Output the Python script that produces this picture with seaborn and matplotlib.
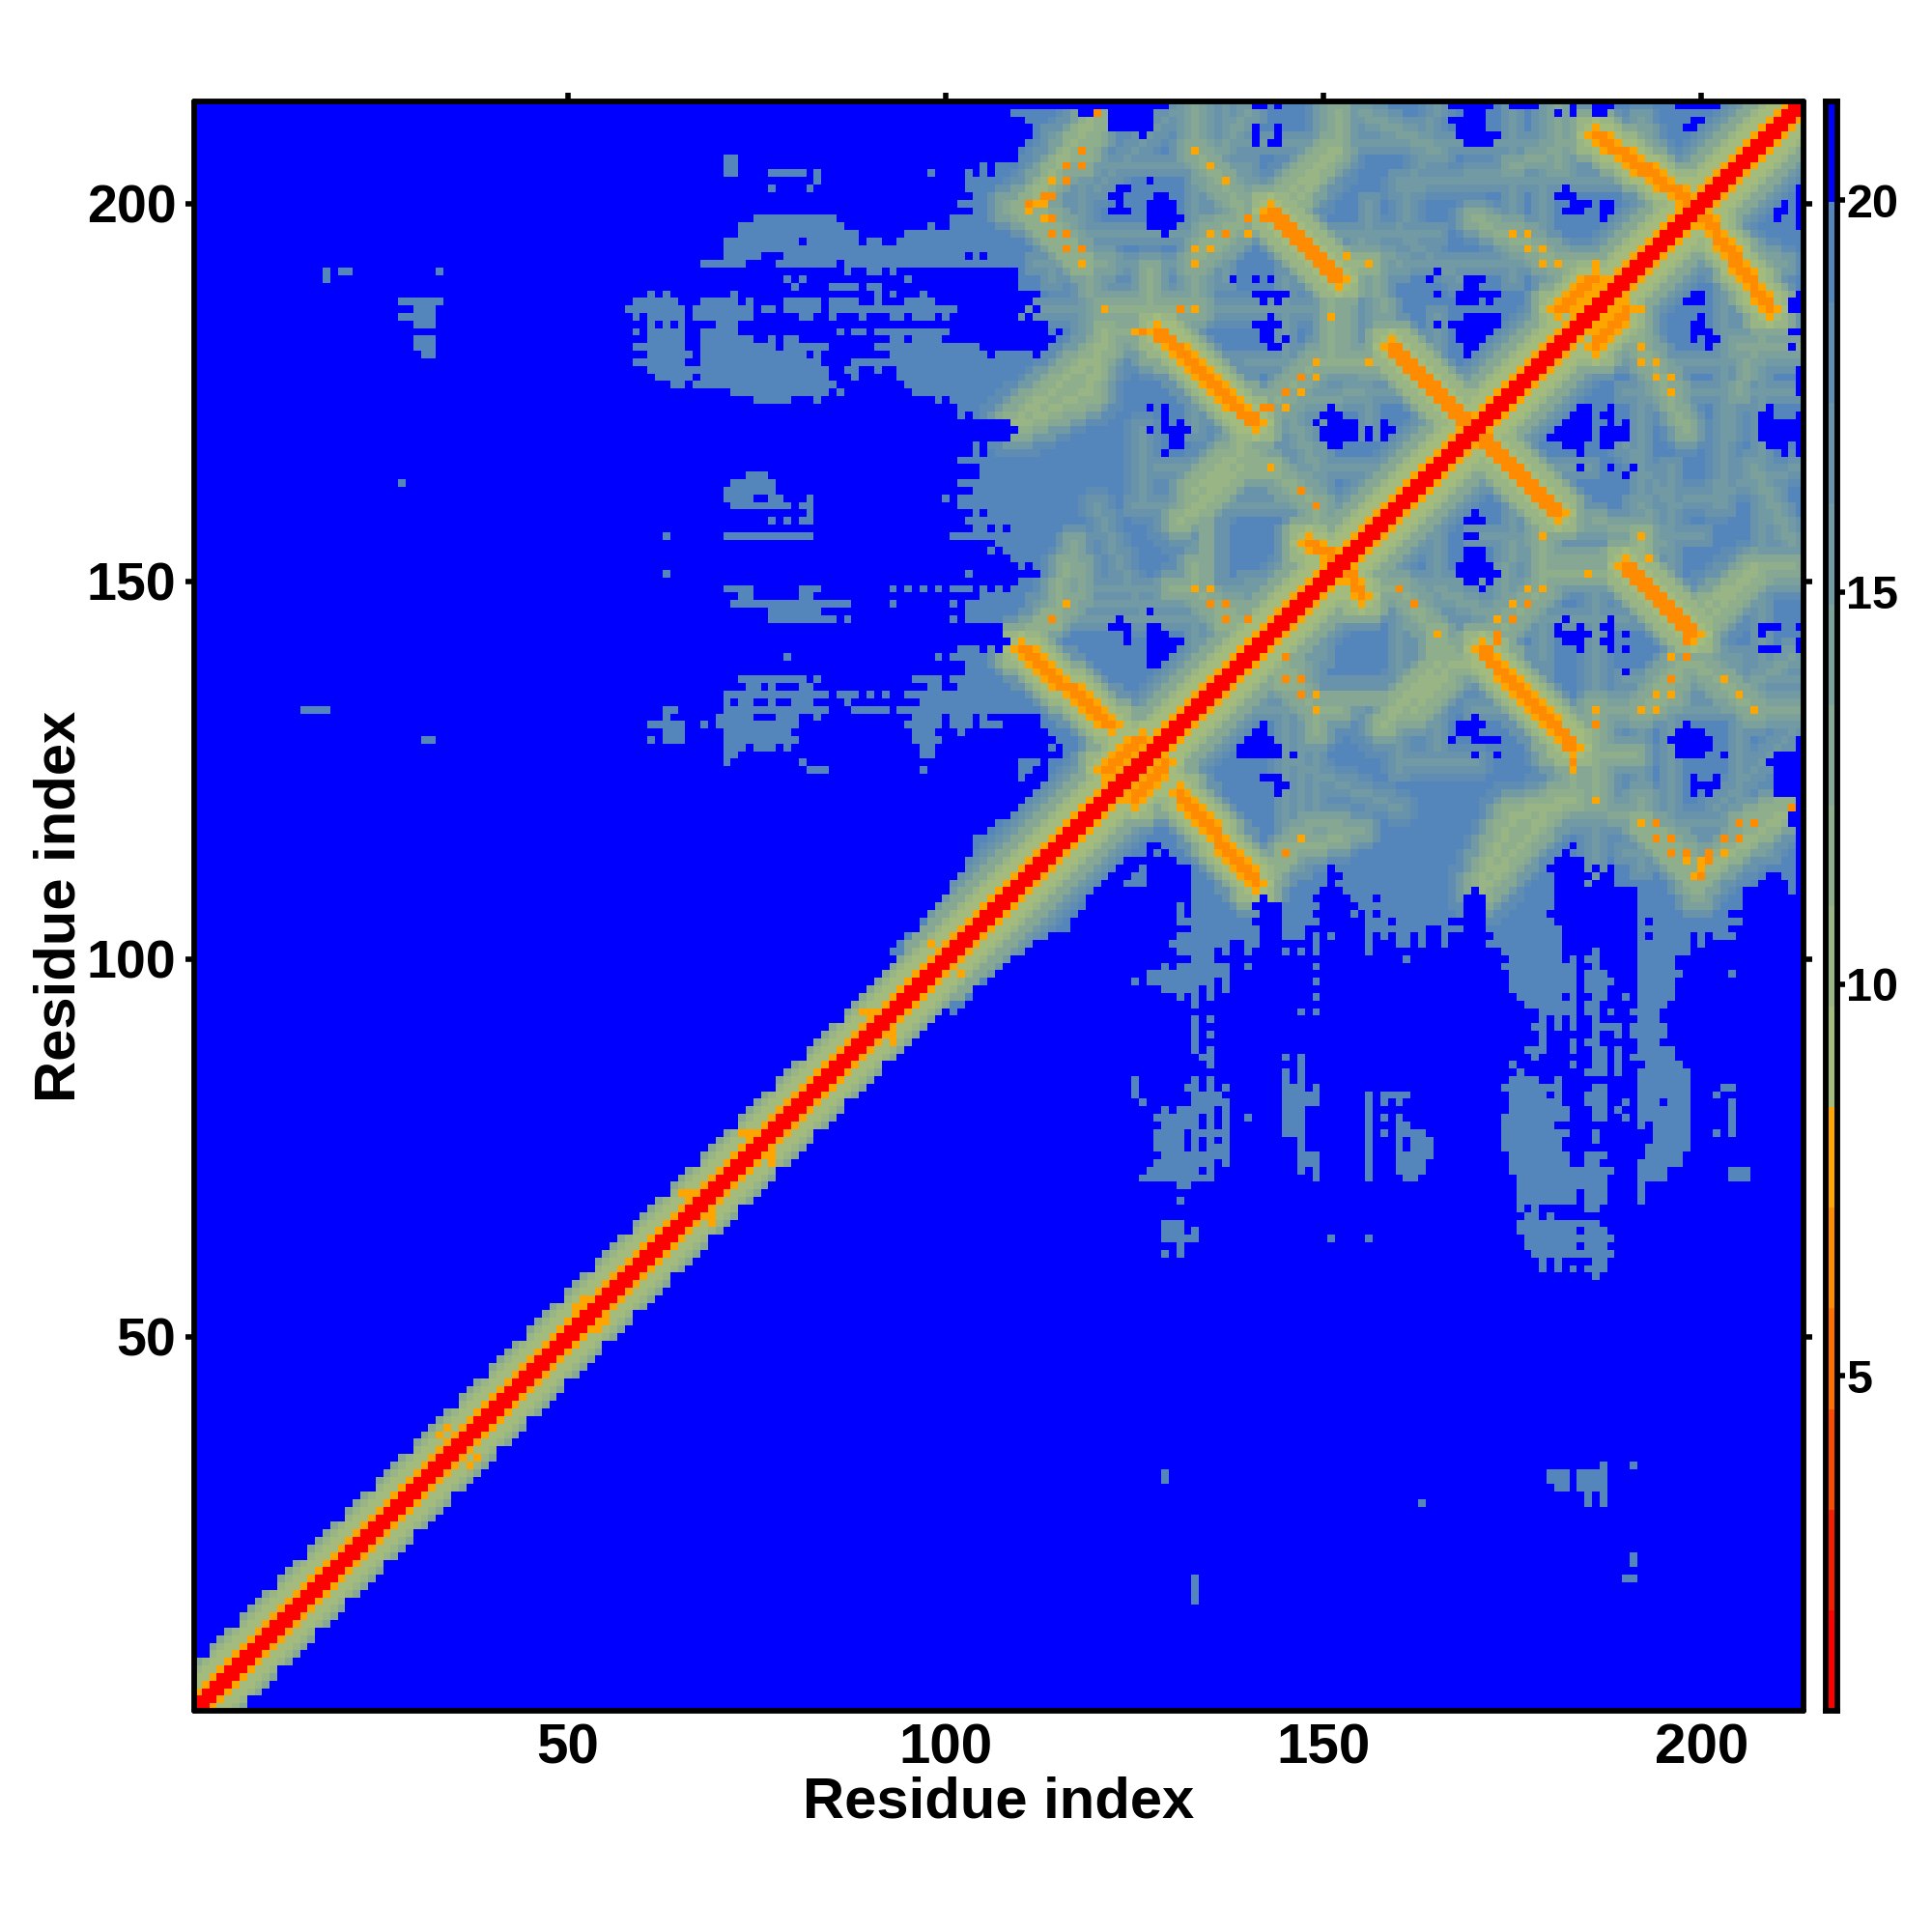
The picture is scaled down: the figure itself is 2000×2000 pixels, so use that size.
import numpy as np
import pandas as pd
import matplotlib
matplotlib.use("Agg")
import matplotlib.pyplot as plt
from matplotlib.colors import ListedColormap
import seaborn as sns

N = 213
BLUE = 21.0
STEEL = 19.0
tick_values = [50, 100, 150, 200]
cbar_ticks = [5, 10, 15, 20]
axis_label = "Residue index"
cmap_colors = ["#FF0000", "#F51E00", "#FA4B00", "#FF7000", "#FF8C00", "#FFA500",
               "#A3BC7D", "#99B585", "#8FAE8C", "#85A794", "#7CA09C", "#729AA4",
               "#6893AB", "#5E8CB3", "#5485BB", "#0000FF"]
VMIN, VMAX = 0.73, 21.26

# first non-blue residue x on each row y = 101..213
solid_first_x = [93, 94, 95, 97, 97, 98, 99, 100, 102, 103, 103, 104, 104, 104, 104, 104,
                 106, 107, 110, 111, 112, 113, 113, 114, 114, 114, 116, 116, 115, 114, 113, 113,
                 94, 97, 95, 102, 101, 103, 103, 101, 108, 109, 108, 108, 103, 103, 103, 105,
                 109, 110, 113, 112, 109, 108, 107, 101, 104, 103, 104, 102, 102, 104, 102, 105,
                 105, 102, 106, 106, 109, 110, 109, 104, 102, 101, 96, 95, 94, 94, 88, 113,
                 114, 115, 116, 114, 113, 113, 113, 113, 110, 110, 110, 87, 79, 71, 94, 95,
                 101, 101, 104, 102, 104, 103, 103, 103, 107, 110, 110, 111, 112, 112, 111, 110, 130]

# isolated non-blue spans (y, x0, x1)
patch_spans = [
    (206, 71, 72), (205, 71, 72), (204, 71, 72), (204, 77, 81), (204, 83, 83), (203, 83, 83), (204, 98, 98),
    (202, 77, 77), (202, 82, 82), (212, 109, 109), (205, 105, 105), (204, 103, 103), (204, 105, 105),
    (198, 75, 85), (197, 73, 86), (197, 98, 98), (196, 73, 88), (195, 71, 88), (195, 90, 91),
    (193, 71, 75), (192, 68, 73), (192, 78, 85), (191, 87, 87), (191, 90, 91), (191, 93, 93),
    (190, 79, 79), (190, 81, 81), (190, 95, 95), (189, 80, 80), (189, 85, 88), (189, 90, 91),
    (188, 61, 61), (188, 63, 63), (188, 72, 72), (188, 91, 91), (188, 93, 93), (188, 97, 97),
    (187, 59, 64), (187, 68, 72), (187, 74, 74), (187, 79, 83), (187, 85, 88), (187, 91, 91), (187, 95, 98), (187, 112, 112),
    (186, 58, 65), (186, 67, 74), (186, 76, 77), (186, 79, 83), (186, 85, 101), (186, 111, 111),
    (185, 59, 59), (185, 61, 65), (185, 67, 74), (185, 81, 82), (185, 85, 85), (185, 89, 89), (185, 93, 94),
    (185, 96, 98), (185, 100, 100), (185, 110, 110), (185, 112, 112),
    (184, 61, 61), (184, 63, 63), (184, 65, 65), (184, 70, 72),
    (183, 59, 59), (183, 61, 65), (183, 68, 72), (183, 86, 86), (183, 88, 89), (183, 91, 100), (183, 114, 114),
    (182, 61, 65), (182, 68, 74), (182, 77, 77), (182, 79, 80), (182, 93, 94), (182, 96, 99),
    (181, 59, 65), (181, 68, 77), (181, 79, 84), (181, 91, 104),
    (180, 61, 66), (180, 68, 81), (180, 83, 83), (180, 93, 105), (180, 107, 111),
    (179, 59, 65), (179, 68, 83), (178, 61, 84), (178, 87, 88), (178, 91, 91),
    (177, 62, 66), (177, 68, 84), (177, 88, 88), (176, 64, 65), (176, 67, 85),
    (175, 72, 84), (175, 86, 86), (174, 75, 79), (174, 83, 83), (174, 99, 99),
    (172, 102, 102), (168, 104, 104), (167, 104, 104),
    (164, 74, 76), (163, 72, 77), (162, 71, 77), (161, 71, 74), (161, 77, 78), (161, 82, 82), (161, 100, 100),
    (160, 72, 79), (160, 81, 82), (159, 82, 82), (158, 77, 77), (158, 79, 79), (158, 81, 82),
    (156, 63, 63), (156, 71, 82), (154, 106, 106), (152, 110, 110), (151, 63, 63), (151, 103, 103),
    (149, 71, 74), (149, 81, 83), (149, 93, 93), (149, 95, 95), (149, 97, 97), (149, 99, 99), (149, 101, 103),
    (149, 105, 105), (149, 107, 107),
    (148, 73, 74), (148, 81, 82), (147, 72, 87), (147, 93, 93), (147, 101, 101), (146, 77, 83),
    (145, 77, 85), (145, 87, 87), (145, 101, 101), (141, 102, 104), (141, 106, 106),
    (140, 79, 79), (140, 99, 99), (137, 73, 81), (137, 83, 83), (137, 96, 99),
    (136, 74, 75), (136, 77, 77), (136, 81, 82), (136, 98, 99),
    (135, 71, 84), (135, 86, 88), (135, 90, 90), (135, 92, 92),
    (134, 71, 71), (134, 73, 74), (134, 77, 77), (134, 80, 82), (134, 87, 87),
    (133, 63, 64), (133, 71, 84), (133, 88, 92), (133, 15, 18),
    (132, 63, 63), (132, 70, 74), (132, 78, 80), (132, 83, 83), (132, 96, 99), (132, 101, 103), (132, 105, 105),
    (131, 61, 65), (131, 68, 68), (131, 70, 80), (131, 95, 99), (131, 101, 103), (131, 105, 107),
    (130, 63, 65), (130, 71, 79), (130, 96, 98), (130, 102, 102),
    (129, 61, 61), (129, 63, 65), (129, 71, 80), (129, 96, 99), (129, 31, 32),
    (128, 71, 73), (128, 75, 77), (128, 79, 79), (128, 97, 98), (128, 114, 114),
    (127, 71, 72), (127, 97, 98), (126, 71, 71), (126, 81, 81), (126, 110, 112),
    (125, 82, 84), (125, 97, 97), (125, 110, 111), (124, 110, 110),
    (191, 18, 18), (190, 18, 18), (191, 20, 21), (191, 33, 33), (187, 28, 33), (186, 30, 32), (185, 28, 32),
    (184, 30, 32), (182, 30, 32), (181, 30, 32), (180, 31, 32), (163, 28, 28), (163, 28, 28),
]

# blue holes inside the solid area (x0, x1, y0, y1)
hole_rects = [
    (118, 119, 212, 212), (122, 127, 210, 213), (126, 126, 209, 209), (128, 129, 213, 213),
    (141, 142, 213, 213), (144, 144, 213, 213), (141, 141, 208, 210), (144, 144, 208, 210), (143, 144, 208, 208),
    (127, 127, 203, 203), (123, 124, 202, 202), (122, 123, 201, 201), (123, 123, 200, 200), (122, 124, 199, 199),
    (128, 129, 201, 201), (127, 130, 197, 200), (130, 131, 198, 198), (130, 130, 197, 197), (129, 129, 196, 196),
    (103, 103, 201, 201), (103, 103, 199, 199), (103, 103, 193, 193), (105, 105, 193, 193), (104, 104, 204, 204),
    (106, 106, 204, 205), (81, 81, 195, 195),
    (138, 138, 190, 190), (141, 141, 190, 190), (143, 143, 190, 190), (141, 145, 188, 188), (142, 142, 187, 187),
    (144, 144, 187, 187), (143, 143, 185, 185), (141, 144, 184, 184), (142, 143, 182, 183), (145, 145, 182, 182),
    (143, 144, 181, 181), (165, 165, 191, 191), (164, 164, 190, 190), (165, 165, 188, 188), (165, 165, 184, 184),
    (127, 127, 173, 173), (129, 129, 170, 173), (131, 131, 170, 171), (127, 127, 170, 170), (130, 132, 170, 170),
    (130, 131, 168, 169), (129, 129, 167, 167),
    (151, 151, 173, 173), (150, 150, 172, 172), (152, 152, 172, 172), (149, 149, 171, 171), (151, 154, 171, 171),
    (150, 154, 169, 170), (151, 152, 168, 168), (156, 156, 169, 170), (158, 158, 169, 171), (159, 159, 168, 170),
    (160, 160, 169, 169),
    (167, 172, 213, 213), (169, 171, 212, 212), (167, 171, 211, 211), (168, 171, 209, 210), (172, 173, 209, 209),
    (169, 172, 208, 208), (176, 176, 213, 213), (178, 178, 213, 213), (181, 181, 212, 212), (183, 183, 212, 213),
    (186, 188, 213, 213), (186, 187, 212, 212), (197, 205, 213, 213), (207, 207, 213, 213),
    (199, 200, 208, 211), (198, 198, 210, 210), (213, 213, 207, 207), (213, 213, 197, 205),
    (182, 182, 202, 202), (181, 183, 201, 201), (183, 185, 200, 200), (182, 184, 199, 199),
    (187, 188, 200, 200), (187, 190, 198, 199), (208, 211, 199, 200), (210, 210, 198, 198),
    (169, 171, 190, 190), (169, 170, 189, 189), (168, 173, 188, 188), (168, 168, 187, 187), (170, 170, 187, 187),
    (172, 172, 187, 187), (169, 172, 185, 185), (167, 173, 184, 184), (168, 174, 182, 183), (169, 172, 180, 181),
    (171, 171, 179, 179), (198, 199, 188, 190), (198, 200, 187, 188), (200, 200, 185, 185), (199, 200, 183, 184),
    (199, 199, 182, 182), (201, 202, 182, 182), (201, 201, 181, 181), (212, 213, 186, 187), (213, 213, 188, 188),
    (212, 213, 183, 183), (212, 212, 181, 181), (213, 213, 177, 177), (213, 213, 175, 175),
    (182, 183, 174, 174), (180, 185, 169, 173), (179, 185, 171, 171), (182, 184, 168, 168), (184, 184, 167, 167),
    (188, 188, 173, 173), (187, 188, 172, 172), (188, 188, 171, 171), (190, 190, 171, 171), (187, 190, 169, 170),
    (187, 188, 168, 168), (184, 184, 165, 165), (188, 188, 165, 165), (191, 191, 165, 165), (190, 190, 164, 164),
    (209, 209, 173, 173), (208, 209, 172, 172), (208, 213, 169, 171), (209, 211, 168, 168), (211, 211, 167, 167),
    (213, 213, 167, 172),
    (169, 169, 160, 160), (168, 170, 159, 159), (169, 171, 158, 158), (169, 170, 156, 156), (169, 171, 153, 154),
    (168, 172, 151, 152), (173, 173, 151, 151), (170, 170, 150, 150), (172, 172, 150, 150), (171, 171, 149, 149),
    (182, 182, 145, 145), (181, 181, 143, 144), (184, 184, 144, 144), (183, 185, 143, 143), (182, 184, 142, 142),
    (184, 184, 141, 141), (188, 188, 141, 145), (187, 187, 144, 144), (187, 187, 142, 142), (190, 190, 143, 143),
    (190, 190, 141, 141), (190, 190, 138, 138), (208, 210, 144, 144), (208, 208, 143, 143), (209, 210, 141, 141),
    (213, 213, 144, 144), (213, 213, 141, 142),
    (170, 170, 132, 132), (168, 171, 131, 131), (168, 169, 130, 130), (167, 167, 129, 129), (170, 173, 129, 129),
    (170, 170, 127, 127), (173, 173, 127, 127), (198, 198, 131, 131), (197, 197, 130, 130), (196, 196, 129, 129),
    (198, 200, 127, 130), (201, 201, 128, 129), (203, 203, 127, 127), (199, 199, 122, 124), (200, 201, 123, 123),
    (202, 202, 123, 124), (201, 201, 122, 122), (210, 213, 122, 126), (209, 209, 126, 126), (210, 210, 127, 127),
    (212, 213, 127, 127), (213, 213, 128, 129), (212, 213, 118, 120), (213, 213, 112, 117),
    (123, 123, 145, 145), (122, 124, 144, 144), (124, 124, 142, 143), (127, 127, 146, 146), (127, 128, 144, 144),
    (127, 129, 143, 143), (127, 131, 142, 142), (127, 130, 140, 141), (127, 131, 139, 139), (128, 130, 138, 138),
    (139, 139, 131, 131), (142, 142, 131, 131), (138, 139, 130, 130), (141, 142, 130, 130), (138, 143, 129, 129),
    (138, 144, 128, 128), (139, 144, 127, 127), (146, 146, 127, 127), (142, 144, 124, 124), (144, 145, 123, 123),
    (144, 144, 122, 122), (106, 106, 157, 157), (108, 108, 157, 157), (105, 105, 159, 159),
]

# green ridges (x0, y0, x1, y1, core distance)
ridges = [
    (111, 200, 120, 212, 10.5), (111, 199, 118, 192, 11), (118, 192, 121, 183, 13.5), (133, 213, 133, 207, 12.5),
    (133, 207, 140, 198, 11.5), (133, 192, 140, 198, 11.5), (121, 186, 133, 186, 11.5), (127, 191, 127, 180, 12),
    (109, 171, 121, 181, 10), (143, 199, 151, 207, 10), (151, 207, 151, 213, 12.5), (139, 171, 139, 167, 10.5),
    (139, 167, 133, 160, 10), (151, 190, 151, 181, 13), (145, 175, 149, 179, 11.5), (149, 179, 156, 179, 12),
    (156, 179, 159, 181, 11.5), (141, 171, 147, 177, 11.5), (149, 160, 143, 165, 11.5), (143, 165, 139, 168, 11.5),
    (149, 160, 149, 152, 11.5), (170, 198, 181, 192, 12), (181, 192, 186, 187, 11.5), (181, 213, 181, 205, 12.5),
    (186, 209, 175, 205, 13), (192, 186, 192, 181, 12), (192, 181, 196, 175, 11.5), (196, 175, 198, 171, 13),
    (179, 149, 173, 143, 11.5), (179, 156, 179, 149, 12), (192, 156, 192, 153, 10.5), (179, 151, 190, 151, 12),
    (199, 143, 198, 140, 11.5), (198, 140, 196, 135, 12), (196, 135, 192, 133, 11.5), (186, 133, 192, 133, 12.5),
    (199, 143, 203, 137, 12.5), (203, 137, 207, 133, 12), (199.5, 146, 207, 151.5, 10.5), (207, 151.5, 212, 152, 12),
    (165, 143, 166, 137, 11), (166, 137, 162, 133, 10), (171, 141, 165, 139, 11.5), (165, 139, 160, 134, 10.5),
    (160, 134, 158, 131, 10.5), (183, 127, 183, 121, 11.5), (183, 121, 175, 119, 10.5), (175, 119, 171, 110, 10),
    (186, 133, 186, 121, 12.5), (192, 118, 198, 114, 11.5), (198, 114, 199.5, 109, 11.5), (207, 118, 200, 111, 11.5),
    (192, 118, 192, 121, 12.5), (205, 118, 211, 121, 12), (141.5, 110, 147, 116, 11.5), (147, 116, 155, 117, 13.5),
    (147, 135, 149, 133, 11.5), (149, 133, 149, 130, 12), (145, 140, 147, 135, 11.5), (149, 134.5, 158, 134.5, 13),
    (133, 152, 133, 149, 12), (133, 149, 137, 145, 11.5), (137, 145, 140, 143, 11), (114, 145, 116, 152, 12),
    (110, 142, 114, 145, 11), (118, 152, 118, 148, 13), (165, 143, 165, 136, 11.5), (160, 149, 165, 143, 12),
    (173, 145, 165, 149, 14), (179, 153, 192, 153, 13), (212, 140, 205, 135, 14), (205, 195, 211, 192, 14.5),
    (155, 195, 160, 192, 14), (165, 213, 160, 196, 15), (175, 155, 173, 145, 14), (205, 178, 202, 160, 15),
    (190, 168, 196, 160, 15), (186, 158, 192, 156, 13.5), (207, 165, 212, 155, 14), (160, 126, 170, 126, 15),
    (145, 126, 160, 120, 15), (149, 190, 152, 186, 13), (202, 120, 212, 130, 15),
    # thin faint lines through the dot grid
    (114, 209, 114, 190, 15.5), (118, 213, 118, 186, 15), (133, 200, 133, 178, 15.5), (137, 213, 137, 190, 16),
    (121, 193, 121, 175, 15.5), (145, 190, 145, 172, 16), (156, 200, 156, 170, 16), (110, 186, 135, 186, 16),
    (112, 196, 140, 196, 15.5), (151, 196, 165, 196, 16), (175, 213, 175, 190, 16), (192, 190, 192, 160, 15.5),
    (175, 192, 195, 192, 15.5), (179, 160, 179, 140, 15.5), (196, 160, 196, 125, 15.5), (170, 133, 212, 133, 15.5),
    (186, 150, 186, 115, 15), (192, 135, 192, 112, 15.5), (205, 140, 205, 115, 16), (175, 118, 208, 118, 15.5),
    (133, 155, 133, 130, 16), (145, 150, 145, 112, 15.5), (149, 148, 149, 118, 15.5), (112, 147, 140, 147, 15.5),
    (165, 165, 165, 128, 15.5), (160, 160, 160, 125, 16), (203, 210, 203, 160, 16), (208, 190, 208, 135, 16),
    (140, 165, 185, 165, 16), (190, 179, 212, 179, 16), (150, 179, 150, 140, 16), (175, 180, 175, 152, 15.5),
]

# orange anti-diagonal strands (x0, y0, x1, y1)
strands = [
    (110, 141, 122, 131), (128, 183, 141, 171), (143, 199, 152, 190), (159, 181, 170, 170), (186, 209, 199, 200),
    (190, 152, 199, 143), (171, 141, 183, 128), (181, 186, 186, 190), (148, 155, 152, 153), (121, 125, 126, 129),
]

# single darker / lighter orange cells (x, y)
dots_deep = [(120, 212), (116, 205), (118, 205), (118, 207), (114, 203), (116, 203), (113, 201), (114, 201), (111, 200),
             (114, 198), (114, 196), (116, 196), (116, 194), (118, 194), (137, 196), (135, 194), (140, 198), (142, 198),
             (131, 186), (126, 183), (149, 179), (156, 179), (147, 177), (145, 175), (147, 175), (147, 162), (149, 160),
             (179, 194), (177, 194), (209, 187), (209, 186), (185, 151), (177, 149), (179, 149), (173, 145), (175, 145),
             (177, 147), (173, 143), (173, 142), (198, 142), (198, 140), (196, 137), (194, 135), (192, 133), (186, 131),
             (183, 126), (194, 118), (205, 118), (207, 118), (194, 116), (196, 116), (203, 116), (205, 116), (196, 114),
             (198, 114), (201, 114), (201, 113), (200, 111), (199, 111), (212, 120), (145, 140), (145, 137), (147, 137),
             (147, 135), (137, 145), (140, 145), (135, 147), (137, 147), (114, 145), (145, 114), (160, 149), (162, 147)]
dots_light = [(111, 199), (113, 200), (113, 198), (118, 192), (133, 207), (135, 205), (137, 203), (135, 196), (140, 196),
              (133, 194), (135, 194), (133, 192), (121, 186), (133, 186), (151, 185), (153, 193), (156, 192), (149, 177),
              (145, 173), (143, 165), (175, 196), (177, 196), (179, 192), (181, 192), (186, 192), (192, 186), (192, 181),
              (192, 179), (194, 179), (194, 177), (196, 177), (196, 175), (179, 156), (192, 156), (193, 153), (179, 149),
              (175, 147), (165, 143), (186, 133), (186, 121), (196, 140), (196, 135), (194, 133), (203, 137), (205, 135),
              (207, 133), (192, 118), (198, 113), (203, 114), (200, 112), (133, 149), (135, 149), (116, 147), (149, 135),
              (149, 133), (147, 116), (183, 125)]
# small orange flanks on the thin part of the diagonal (x, y)
dots_flank = [(33, 37), (34, 38), (51, 54), (52, 55), (65, 69), (66, 69), (73, 77), (74, 77), (89, 93), (90, 93), (98, 102)]

band_values = [1.2, 1.5, 7.6, 9.0, 9.6, 10.5, 12.8, 13.5, 15.0, 16.5, 18.0]
band_half_width = ([6, 5, 6, 6, 5, 6, 6, 6, 5, 6, 6, 6, 6, 5, 6, 6, 6, 5, 6, 6,
                    6, 6, 5, 6, 6, 6, 5, 6, 6, 6, 6, 5, 6, 6, 6, 6, 6, 5, 6, 6,
                    6, 5, 6, 6, 6, 6, 5, 6, 6, 6, 6, 5, 6, 6, 6, 5, 6, 6, 6, 6,
                    5, 6, 6, 6, 6, 5, 6, 6, 6, 5, 6, 6, 6, 6, 5, 6, 6, 6, 6, 5,
                    6, 6, 6, 5, 6, 6, 6, 6, 5, 6, 6, 6, 6, 6, 6, 6, 6, 7, 7, 7,
                    7, 8, 8, 8, 9, 9, 9] + [10] * 106)
ridge_falloff = [0.0, 1.2, 3.2, 5.8, 8.0]
strand_values = [6.4, 7.6, 9.4, 10.8, 13.2, 16.2]
strand_edges = [0.75, 1.3, 2.1, 2.9, 3.7, 4.6]

D = np.full((N, N), BLUE)


def put(x0, x1, y0, y1, v):
    D[y0 - 1:y1, x0 - 1:x1] = v
    D[x0 - 1:x1, y0 - 1:y1] = v


for k, first in enumerate(solid_first_x):
    y = 101 + k
    if first <= y:
        put(first, y, y, y, STEEL)
for y, x0, x1 in patch_spans:
    put(x0, x1, y, y, STEEL)
for x0, x1, y0, y1 in hole_rects:
    put(x0, x1, y0, y1, BLUE)

X, Y = np.meshgrid(np.arange(1, N + 1), np.arange(1, N + 1))


def seg_dist(x0, y0, x1, y1):
    dx, dy = x1 - x0, y1 - y0
    t = np.clip(((X - x0) * dx + (Y - y0) * dy) / max(dx * dx + dy * dy, 1e-6), 0, 1)
    return np.hypot(X - x0 - t * dx, Y - y0 - t * dy)


def paint(idx, values, core_over_blue=-1):
    global D
    for k, v in enumerate(values):
        m = (idx == k) & (D > v) & ((D < 20) | (k <= core_over_blue))
        D[m] = v
    D = np.minimum(D, D.T)


for x0, y0, x1, y1, core in ridges:
    paint(np.rint(seg_dist(x0, y0, x1, y1)).astype(int), [min(core + f, STEEL) for f in ridge_falloff])

off = np.abs(X - Y)
mid = ((X + Y) / 2).astype(int) - 1
hw = np.array(band_half_width)[np.clip(mid, 0, N - 1)]
for k, v in enumerate(band_values):
    m = (off == k) & (k <= hw) & (D > v)
    D[m] = v

for s in strands:
    paint(np.digitize(seg_dist(*s), strand_edges), strand_values, core_over_blue=1)
for x, y in dots_deep:
    put(x, x, y, y, 6.4)
for x, y in dots_light + dots_flank:
    put(x, x, y, y, 7.7)
D[off <= 1] = 1.5

df = pd.DataFrame(D, index=np.arange(1, N + 1), columns=np.arange(1, N + 1))

sns.set_theme(style="white")
plt.rcParams["font.family"] = ["Liberation Sans", "DejaVu Sans"]
plt.rcParams["font.weight"] = "bold"
fig = plt.figure(figsize=(10, 10), dpi=200)
ax = fig.add_axes([201 / 2000, 1 - 1771 / 2000, 1666 / 2000, 1666 / 2000])
cax = fig.add_axes([1889.5 / 2000, 1 - 1771 / 2000, 12 / 2000, 1666 / 2000])
sns.heatmap(df, ax=ax, cbar_ax=cax, cmap=ListedColormap(cmap_colors), vmin=VMIN, vmax=VMAX,
            xticklabels=False, yticklabels=False, square=False)
ax.invert_yaxis()
pos = [t - 0.5 for t in tick_values]
ax.set_xticks(pos)
ax.set_xticklabels([str(t) for t in tick_values], fontsize=21, fontweight="bold", rotation=0)
ax.set_yticks(pos)
ax.set_yticklabels([str(t) for t in tick_values], fontsize=20, fontweight="bold", rotation=0)
ax.tick_params(axis="x", bottom=False, top=True, labelbottom=True, length=3.2, width=2, pad=1.4, color="black", labelcolor="black")
ax.tick_params(axis="y", left=True, right=True, labelleft=True, length=3.2, width=2, pad=3.5, color="black", labelcolor="black")
for t in ax.xaxis.get_ticklines() + ax.yaxis.get_ticklines():
    t.set_solid_capstyle("round")
for s in ax.spines.values():
    s.set_visible(True)
    s.set_linewidth(2.1)
    s.set_color("black")
    s.set_capstyle("round")
ax.set_xlabel(axis_label, fontsize=21.5, fontweight="bold", color="black")
ax.set_ylabel(axis_label, fontsize=21.5, fontweight="bold", color="black")
ax.xaxis.set_label_coords(0.5, -0.0407)
ax.yaxis.set_label_coords(-0.0672, 0.5)

cbar = ax.collections[0].colorbar
cbar.set_ticks(cbar_ticks)
cbar.set_ticklabels([str(t) for t in cbar_ticks], fontsize=17.5, fontweight="bold")
cax.tick_params(axis="y", right=True, left=False, length=3, width=2, pad=0.5, color="black", labelcolor="black")
cbar.outline.set_visible(True)
cbar.outline.set_edgecolor("black")
cbar.outline.set_linewidth(2.0)
for s in cax.spines.values():
    s.set_visible(True)
    s.set_linewidth(2.0)
    s.set_color("black")

fig.savefig("out.png", dpi=200, facecolor="white")
